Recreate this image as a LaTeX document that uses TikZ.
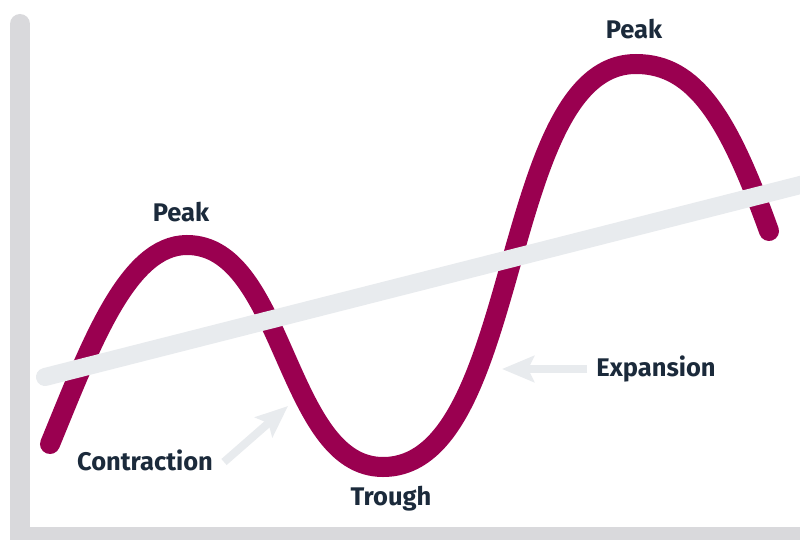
\documentclass[tikz,border=0pt]{standalone}
\usepackage{fontspec}
\setmainfont{Fira Sans}
\usetikzlibrary{arrows.meta}
\definecolor{wave}{HTML}{9A0050}
\definecolor{trendgray}{HTML}{E8EBEE}
\definecolor{axisgray}{HTML}{D9D9DC}
\definecolor{labelink}{HTML}{1B2A3B}
\tikzset{
  axisbar/.style={draw=axisgray, line width=20pt},
  waveline/.style={draw=wave, line width=20pt, line cap=round},
  trendline/.style={draw=trendgray, line width=18pt, line cap=round},
  pointer/.style={draw=trendgray, line width=8pt,
    -{Stealth[length=32pt, width=26pt, inset=6pt]}},
  tag/.style={text=labelink, font=\bfseries\fontsize{25.5}{30}\selectfont, inner sep=0pt}
}
\begin{document}
\begin{tikzpicture}[x=1pt, y=-1pt]
  \useasboundingbox (0,0) rectangle (800,540);
  \clip (0,0) rectangle (800,540);
  \fill[white] (0,0) rectangle (800,540);

  % axes
  \draw[axisbar, line cap=round] (20,24) -- (20,530);
  \fill[axisgray] (10,527) rectangle (800,540);

  % business cycle wave
  \coordinate (s) at (50,444);
  \coordinate (p1) at (187,245);
  \coordinate (t1) at (383,467);
  \coordinate (p2) at (636,64);
  \coordinate (e) at (769,231);
  \draw[waveline] (s) .. controls (90,347) and (127,245) .. (p1)
    .. controls (285,245) and (285,467) .. (t1)
    .. controls (523,467) and (498,64) .. (p2)
    .. controls (696,64) and (729,120) .. (e);

  % long-run trend
  \coordinate (ta) at (45,377);
  \coordinate (tb) at (820,180);
  \draw[trendline] (ta) -- (tb);

  % labels
  \node[tag] (peakA) at (181,212) {Peak};
  \node[tag] (peakB) at (634,29) {Peak};
  \node[tag] (trough) at (391,499) {Trough};
  \node[tag] (contr) at (145,460) {Contraction};
  \node[tag] (expan) at (656,369) {Expansion};

  % pointers
  \coordinate (cTail) at (224,462);
  \coordinate (cTip) at (288,406);
  \coordinate (eTail) at (587,369);
  \coordinate (eTip) at (502,369);
  \draw[pointer] (cTail) -- (cTip);
  \draw[pointer] (eTail) -- (eTip);
\end{tikzpicture}
\end{document}
